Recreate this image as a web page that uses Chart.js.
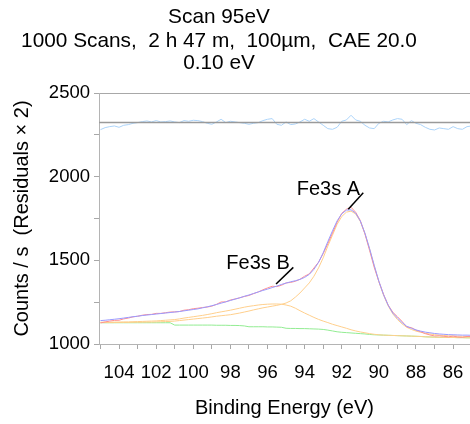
<!DOCTYPE html>
<html>
<head>
<meta charset="utf-8">
<script src="https://cdn.jsdelivr.net/npm/chart.js@4.4.1/dist/chart.umd.min.js"></script>
<style>
  html, body { margin: 0; padding: 0; background: #ffffff; }
  #wrap { width: 470px; height: 424px; }
</style>
</head>
<body>
<div id="wrap"><canvas id="xps" width="470" height="424"></canvas></div>
<script>
const FONT = "'Liberation Sans', Arial, sans-serif";

// binding energy, eV (0.25 eV steps)
const energy = [105, 104.75, 104.5, 104.25, 104, 103.75, 103.5, 103.25, 103, 102.75,
  102.5, 102.25, 102, 101.75, 101.5, 101.25, 101, 100.75, 100.5, 100.25,
  100, 99.75, 99.5, 99.25, 99, 98.75, 98.5, 98.25, 98, 97.75,
  97.5, 97.25, 97, 96.75, 96.5, 96.25, 96, 95.75, 95.5, 95.25,
  95, 94.75, 94.5, 94.25, 94, 93.75, 93.5, 93.25, 93, 92.75,
  92.5, 92.25, 92, 91.75, 91.5, 91.25, 91, 90.75, 90.5, 90.25,
  90, 89.75, 89.5, 89.25, 89, 88.75, 88.5, 88.25, 88, 87.75,
  87.5, 87.25, 87, 86.75, 86.5, 86.25, 86, 85.75, 85.5, 85.25, 85];

const counts = [1126, 1132, 1137, 1141, 1142, 1150, 1155, 1162, 1166, 1172,
  1176, 1177, 1183, 1183, 1187, 1191, 1192, 1194, 1202, 1205,
  1211, 1214, 1218, 1221, 1226, 1237, 1251, 1252, 1263, 1269,
  1276, 1284, 1290, 1301, 1311, 1324, 1335, 1345, 1343, 1351,
  1365, 1368, 1375, 1387, 1405, 1419, 1454, 1489, 1540, 1600,
  1663, 1727, 1781, 1805, 1817, 1787, 1738, 1657, 1559, 1458,
  1374, 1298, 1233, 1190, 1163, 1135, 1102, 1098, 1083, 1073,
  1062, 1054, 1048, 1049, 1046, 1043, 1047, 1042, 1040, 1045, 1045];

const envelope = [1140, 1142, 1145, 1148, 1151, 1155, 1159, 1163, 1166, 1170,
  1173, 1176, 1179, 1182, 1185, 1188, 1191, 1194, 1198, 1202,
  1206, 1210, 1216, 1222, 1229, 1236, 1244, 1252, 1260, 1268,
  1276, 1285, 1293, 1302, 1311, 1320, 1328, 1337, 1346, 1356,
  1364, 1372, 1378, 1386, 1398, 1416, 1446, 1488, 1545, 1612,
  1676, 1736, 1778, 1800, 1802, 1782, 1735, 1662, 1570, 1470,
  1375, 1295, 1232, 1185, 1155, 1128, 1106, 1094, 1084, 1077,
  1071, 1067, 1063, 1060, 1058, 1056, 1055, 1054, 1053, 1053, 1052];

const fe3sA = [1128, 1128, 1128, 1128, 1129, 1129, 1129, 1130, 1130, 1130,
  1131, 1131, 1132, 1133, 1134, 1135, 1137, 1140, 1143, 1146,
  1149, 1152, 1155, 1158, 1162, 1166, 1169, 1172, 1175, 1180,
  1185, 1191, 1197, 1204, 1210, 1216, 1221, 1226, 1231, 1237,
  1245, 1258, 1280, 1305, 1335, 1365, 1405, 1455, 1515, 1585,
  1650, 1715, 1762, 1788, 1794, 1777, 1732, 1660, 1568, 1467,
  1372, 1292, 1228, 1180, 1146, 1120, 1100, 1087, 1077, 1070,
  1064, 1060, 1056, 1053, 1051, 1049, 1048, 1047, 1046, 1045, 1045];

const fe3sB = [1130, 1130, 1130, 1131, 1131, 1132, 1132, 1133, 1134, 1135,
  1136, 1137, 1138, 1140, 1142, 1144, 1146, 1150, 1155, 1159,
  1163, 1167, 1171, 1176, 1181, 1187, 1192, 1197, 1202, 1208,
  1214, 1220, 1225, 1229, 1233, 1236, 1238, 1239, 1239, 1238,
  1233, 1226, 1214, 1199, 1185, 1172, 1159, 1147, 1137, 1128,
  1118, 1110, 1102, 1094, 1085, 1078, 1072, 1067, 1062, 1058,
  1055, 1053, 1052, 1051, 1050, 1049, 1048, 1047, 1046, 1045,
  1043, 1042, 1041, 1040, 1040, 1039, 1039, 1038, 1038, 1037, 1037];

const background = [1127, 1127, 1127, 1127, 1127, 1127, 1127, 1127, 1127, 1127,
  1127, 1127, 1127, 1127, 1127, 1127, 1113, 1113, 1113, 1113,
  1113, 1113, 1113, 1113, 1113, 1112, 1112, 1112, 1111, 1111,
  1110, 1108, 1103, 1103, 1103, 1103, 1102, 1102, 1101, 1100,
  1094, 1093, 1093, 1092, 1092, 1091, 1090, 1089, 1087, 1083,
  1078, 1073, 1070, 1068, 1066, 1064, 1062, 1060, 1057, 1055,
  1054, 1053, 1052, 1051, 1050, 1049, 1048, 1047, 1046, 1045,
  1043, 1042, 1041, 1040, 1040, 1039, 1039, 1038, 1038, 1037, 1037];

// residuals (x2) drawn about an offset line
const residualZero = 2323;
const residual = [2281, 2293, 2299, 2303, 2295, 2307, 2311, 2319, 2323, 2329,
  2333, 2327, 2335, 2327, 2329, 2333, 2327, 2323, 2335, 2331,
  2337, 2335, 2329, 2319, 2313, 2327, 2343, 2323, 2331, 2327,
  2323, 2319, 2313, 2319, 2323, 2335, 2343, 2347, 2313, 2307,
  2327, 2311, 2315, 2327, 2343, 2331, 2347, 2327, 2307, 2287,
  2283, 2295, 2331, 2339, 2367, 2339, 2331, 2307, 2291, 2287,
  2319, 2331, 2327, 2339, 2347, 2343, 2311, 2335, 2319, 2311,
  2295, 2283, 2279, 2291, 2287, 2283, 2299, 2287, 2283, 2299, 2303];

const xMin = 85.09, xMax = 105.08;
const yMin = 1000, yMax = 2500;

const titleLines = ['Scan 95eV', '1000 Scans,  2 h 47 m,  100\u00b5m,  CAE 20.0', '0.10 eV'];

const peakLabels = [
  { text: 'Fe3s A', at: [92.72, 1926], from: [91.65, 1805], to: [90.84, 1904] },
  { text: 'Fe3s B', at: [96.51, 1482], from: [95.54, 1359], to: [94.61, 1458] }
];

const pts = ys => energy.map((e, i) => ({ x: e, y: ys[i] }));

function series(label, ys, color) {
  return { label, data: pts(ys), borderColor: color, borderWidth: 1, pointRadius: 0, tension: 0, fill: false };
}

// three-line header, centred a little left of the canvas middle as in the original
const headerPlugin = {
  id: 'header',
  afterDraw(chart) {
    const ctx = chart.ctx;
    ctx.save();
    ctx.fillStyle = '#000';
    ctx.font = '20.8px ' + FONT;
    ctx.textAlign = 'center';
    ctx.textBaseline = 'alphabetic';
    [22.7, 46.5, 68.5].forEach((y, i) => ctx.fillText(titleLines[i], 219, y));
    ctx.restore();
  }
};

const labelPlugin = {
  id: 'peakLabels',
  afterDatasetsDraw(chart) {
    const { ctx, scales: { x, y } } = chart;
    ctx.save();
    ctx.strokeStyle = '#000';
    ctx.lineWidth = 1.5;
    ctx.fillStyle = '#000';
    ctx.font = '20px ' + FONT;
    ctx.textAlign = 'center';
    ctx.textBaseline = 'middle';
    peakLabels.forEach(p => {
      ctx.beginPath();
      ctx.moveTo(x.getPixelForValue(p.from[0]), y.getPixelForValue(p.from[1]));
      ctx.lineTo(x.getPixelForValue(p.to[0]), y.getPixelForValue(p.to[1]));
      ctx.stroke();
      ctx.fillText(p.text, x.getPixelForValue(p.at[0]), y.getPixelForValue(p.at[1]));
    });
    ctx.restore();
  }
};

new Chart(document.getElementById('xps'), {
  type: 'line',
  data: {
    datasets: [
      series('Envelope', envelope, '#9a9aff'),
      series('Counts', counts, '#ff9090'),
      series('Fe3s A', fe3sA, '#ffcf8c'),
      series('Fe3s B', fe3sB, '#ffcf8c'),
      series('Background', background, '#92ec92'),
      { label: 'Zero', data: [{ x: xMax, y: residualZero }, { x: xMin, y: residualZero }], borderColor: '#9a9a9a', borderWidth: 1.5, pointRadius: 0 },
      series('Residuals', residual, '#acd4fa')
    ]
  },
  options: {
    responsive: false,
    animation: false,
    layout: { padding: { top: 93, left: 0, right: 0, bottom: 0 } },
    plugins: {
      legend: { display: false },
      tooltip: { enabled: false },
      title: { display: false }
    },
    scales: {
      x: {
        type: 'linear',
        reverse: true,
        min: xMin,
        max: xMax,
        afterBuildTicks: s => { s.ticks = s.ticks.filter(t => Number.isInteger(t.value)); },
        afterFit: s => { s.height = 80; s.paddingLeft = 0; s.paddingRight = 0; },
        ticks: {
          stepSize: 1,
          includeBounds: false,
          autoSkip: false,
          maxRotation: 0,
          padding: 13,
          color: '#000',
          font: { family: FONT, size: 18.5 },
          callback: v => (v % 2 === 0 ? v : '')
        },
        grid: { drawOnChartArea: false, tickLength: 5, color: '#a8a8a8' },
        border: { color: '#b4b4b4' },
        title: {
          display: true,
          text: 'Binding Energy (eV)',
          color: '#000',
          font: { family: FONT, size: 20 },
          padding: { top: 0, bottom: 4 }
        }
      },
      y: {
        min: yMin,
        max: yMax,
        afterFit: s => { s.width = 99; },
        ticks: {
          stepSize: 250,
          padding: 4,
          color: '#000',
          font: { family: FONT, size: 18.5 },
          callback: v => (v % 500 === 0 ? v : '')
        },
        grid: {
          tickLength: 5,
          tickColor: '#a8a8a8',
          color: c => (c.tick && c.tick.value === yMax ? '#a8a8a8' : 'rgba(0,0,0,0)')
        },
        border: { color: '#b4b4b4' },
        title: {
          display: true,
          text: 'Counts / s  (Residuals \u00d7 2)',
          color: '#000',
          font: { family: FONT, size: 20 },
          padding: { top: 10, bottom: 0 }
        }
      }
    }
  },
  plugins: [labelPlugin, headerPlugin]
});
</script>
</body>
</html>
